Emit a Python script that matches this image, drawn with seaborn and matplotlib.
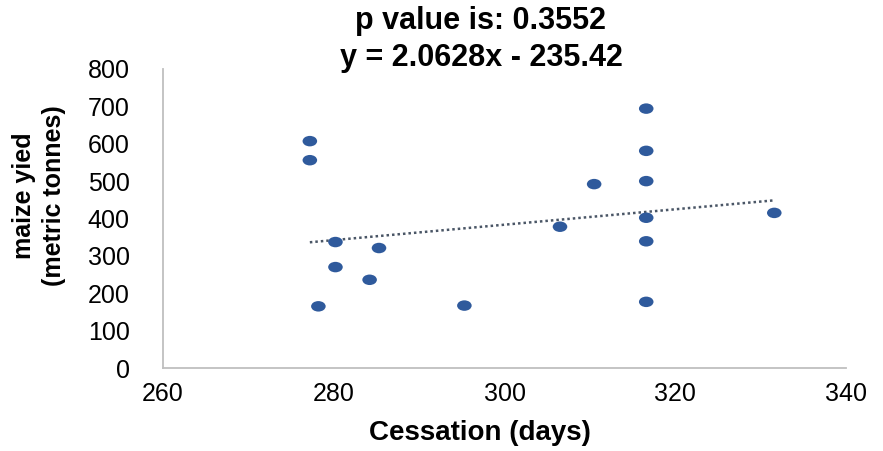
import matplotlib
matplotlib.use("Agg")
import matplotlib.pyplot as plt
import numpy as np
import pandas as pd
import seaborn as sns
from matplotlib.path import Path
from matplotlib.markers import MarkerStyle
from matplotlib.transforms import Affine2D

# Cessation day vs maize yield
cessation_days = [277.2, 277.2, 280.2, 285.3, 280.2, 284.2, 278.2, 295.3,
                  316.6, 316.6, 310.5, 316.6, 306.5, 316.6, 316.6, 316.6, 331.6]
maize_yield = [607, 556, 337, 321, 270, 236, 165, 167,
               694, 581, 492, 500, 378, 402, 339, 177, 415]

# Fitted trendline parameters
slope = 2.0628
intercept = -235.42
p_value = 0.3552

x_ticks = [260, 280, 300, 320, 340]
y_ticks = [0, 100, 200, 300, 400, 500, 600, 700, 800]

df = pd.DataFrame({"cessation": cessation_days, "yield": maize_yield})

sns.set_theme(style="white")
plt.rcParams["font.family"] = ["Liberation Sans", "DejaVu Sans"]
plt.rcParams["text.color"] = "black"
plt.rcParams["axes.labelcolor"] = "black"

fig = plt.figure(figsize=(8.83, 4.51), dpi=100)
ax_left, ax_right, ax_top, ax_bottom = 163, 846, 69, 368
ax = fig.add_axes([ax_left / 883, 1 - ax_bottom / 451,
                   (ax_right - ax_left) / 883, (ax_bottom - ax_top) / 451])

# slightly flattened ellipse markers
ellipse = Path.unit_circle().transformed(Affine2D().scale(1.0, 0.72))
sns.scatterplot(data=df, x="cessation", y="yield", ax=ax,
                marker=MarkerStyle(ellipse), s=110, color="#2F5A9C",
                edgecolor="none", linewidth=0, zorder=3)

# dotted linear trendline across the data range
xs = np.array([min(cessation_days), max(cessation_days)])
ax.plot(xs, slope * xs + intercept, linestyle=(0, (1, 1.2)), linewidth=1.8,
        color="#4A5666", zorder=2)

ax.set_xlim(x_ticks[0], x_ticks[-1])
ax.set_ylim(y_ticks[0], y_ticks[-1])
ax.set_xticks(x_ticks)
ax.set_yticks(y_ticks)
ax.tick_params(axis="both", length=0, labelsize=18, colors="black")
ax.tick_params(axis="x", pad=10)
ax.tick_params(axis="y", pad=24)

for side in ["top", "right"]:
    ax.spines[side].set_visible(False)
for side in ["left", "bottom"]:
    ax.spines[side].set_color("#BFBFBF")
    ax.spines[side].set_linewidth(1.3)

w = ax_right - ax_left
h = ax_bottom - ax_top
ax.set_xlabel("Cessation (days)", fontsize=20, fontweight="bold", va="center",
              color="black")
ax.xaxis.set_label_coords((480 - ax_left) / w, -(433 - ax_bottom) / h)
ax.set_ylabel("maize yied\n(metric tonnes)", fontsize=18, fontweight="bold",
              linespacing=1.3, va="center", color="black")
ax.yaxis.set_label_coords(-(ax_left - 39) / w, (ax_bottom - 196) / h)

fig.text(481 / 883, 1 - 21 / 451, f"p value is: {p_value}",
         ha="center", va="center", fontsize=22, fontweight="bold", color="black")
fig.text(481 / 883, 1 - 58 / 451, f"y = {slope}x - {abs(intercept)}",
         ha="center", va="center", fontsize=22, fontweight="bold", color="black")

fig.savefig("out.png", dpi=100, facecolor="white")
